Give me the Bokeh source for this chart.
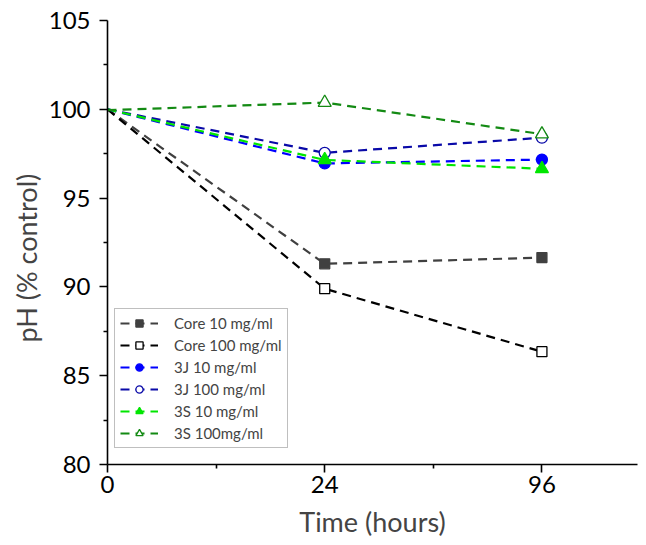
from bokeh.plotting import figure
from bokeh.models import Range1d, FixedTicker, Legend, LegendItem, Title
from bokeh.embed import file_html
from bokeh.resources import INLINE

# ---- data ----
times = ["0", "24", "96"]
core_10 = [100.0, 91.3, 91.65]
core_100 = [100.0, 89.9, 86.35]
j3_10 = [100.0, 96.95, 97.17]
j3_100 = [100.0, 97.55, 98.4]
s3_10 = [100.0, 97.15, 96.65]
s3_100 = [99.95, 100.38, 98.6]
y_ticks = [80, 85, 90, 95, 100, 105]

series = [
    ("Core 10 mg/ml", core_10, "#404040", "square", "#404040", 10),
    ("Core 100 mg/ml", core_100, "#000000", "square", "white", 10),
    ("3J 10 mg/ml", j3_10, "#0000ff", "circle", "#0000ff", 11),
    ("3J 100 mg/ml", j3_100, "#0a0aa8", "circle", "white", 11),
    ("3S 10 mg/ml", s3_10, "#00e600", "triangle", "#00e600", 13),
    ("3S 100mg/ml", s3_100, "#138a13", "triangle", "white", 13),
]

FONT = "Lato"
xs = list(range(len(times)))

p = figure(width=638, height=540, output_backend="svg", toolbar_location=None,
           x_range=Range1d(0, 2.44), y_range=Range1d(80, 105),
           min_border_left=107, min_border_right=1, min_border_top=20,
           min_border_bottom=76)
p.outline_line_color = None
p.xgrid.visible = False
p.ygrid.visible = False
p.background_fill_color = "white"

items = []
for name, vals, col, mk, fill, sz in series:
    lr = p.line(xs, vals, line_color=col, line_width=2.2, line_dash="9 6")
    sr = p.scatter(xs[1:], vals[1:], marker=mk, size=sz, line_color=col,
                   fill_color=fill, line_width=1.3)
    items.append(LegendItem(label=name, renderers=[lr, sr]))

legend = Legend(items=items, location=(7, 16), border_line_color="#7f7f7f",
                border_line_width=1, label_text_font=FONT,
                label_text_font_size="15px", glyph_width=38, glyph_height=18,
                label_height=18, spacing=4, padding=5, margin=0,
                label_standoff=16, background_fill_alpha=1.0)
p.add_layout(legend, "center")

p.xaxis.ticker = FixedTicker(ticks=xs, minor_ticks=[x + 0.5 for x in xs[:-1]])
p.xaxis.major_label_overrides = {i: t for i, t in enumerate(times)}
p.yaxis.ticker = FixedTicker(ticks=y_ticks,
                             minor_ticks=[v + 2.5 for v in y_ticks[:-1]])

for ax in (p.xaxis, p.yaxis):
    ax.axis_line_width = 1.6
    ax.axis_line_color = "black"
    ax.major_tick_line_color = "black"
    ax.minor_tick_line_color = "black"
    ax.major_tick_line_width = 1.6
    ax.minor_tick_line_width = 1.6
    ax.major_tick_out = 8
    ax.major_tick_in = 0
    ax.minor_tick_out = 4
    ax.minor_tick_in = 0
    ax.major_label_text_font = FONT
    ax.major_label_text_font_size = "24px"
    ax.major_label_text_color = "black"

p.yaxis.major_label_standoff = 9
p.xaxis.major_label_standoff = 3
p.xaxis.axis_label = "Time (hours)"
p.xaxis.axis_label_text_font = FONT
p.xaxis.axis_label_text_font_size = "27px"
p.xaxis.axis_label_text_font_style = "normal"
p.xaxis.axis_label_standoff = 9

ytitle = Title(text="pH (% control)", align="left", text_font=FONT,
               text_font_size="27px", text_font_style="normal", offset=122,
               standoff=6)
p.add_layout(ytitle, "left")

open("out.html", "w").write(file_html(p, INLINE))
